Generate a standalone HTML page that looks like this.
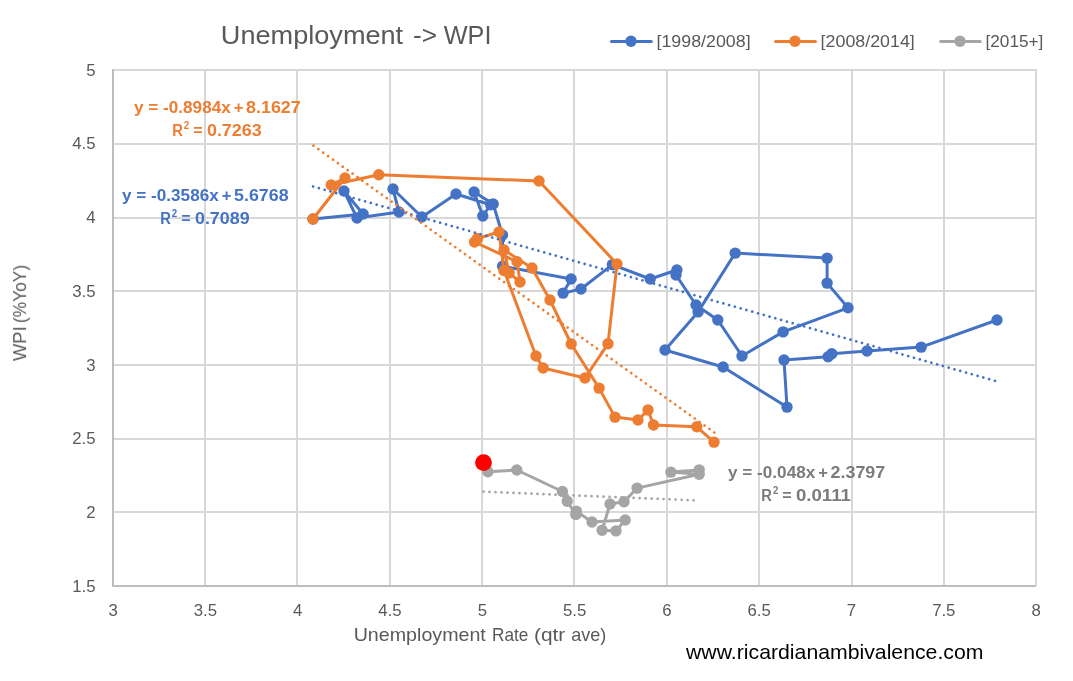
<!DOCTYPE html>
<html><head><meta charset="utf-8"><title>Unemployment -&gt; WPI</title>
<style>html,body{margin:0;padding:0;background:#fff;}svg{display:block;}text{font-family:"Liberation Sans",sans-serif;}</style>
</head><body>
<svg width="1073" height="681" viewBox="0 0 1073 681">
<rect x="0" y="0" width="1073" height="681" fill="#ffffff"/>
<g stroke="#d8d8d8" stroke-width="2" fill="none">
<line x1="205" y1="69.0" x2="205" y2="586.0"/>
<line x1="297" y1="69.0" x2="297" y2="586.0"/>
<line x1="390" y1="69.0" x2="390" y2="586.0"/>
<line x1="482" y1="69.0" x2="482" y2="586.0"/>
<line x1="574" y1="69.0" x2="574" y2="586.0"/>
<line x1="667" y1="69.0" x2="667" y2="586.0"/>
<line x1="759" y1="69.0" x2="759" y2="586.0"/>
<line x1="852" y1="69.0" x2="852" y2="586.0"/>
<line x1="944" y1="69.0" x2="944" y2="586.0"/>
<line x1="1036" y1="69.0" x2="1036" y2="586.0"/>
<line x1="113.0" y1="70" x2="1037.0" y2="70"/>
<line x1="113.0" y1="144" x2="1037.0" y2="144"/>
<line x1="113.0" y1="218" x2="1037.0" y2="218"/>
<line x1="113.0" y1="291" x2="1037.0" y2="291"/>
<line x1="113.0" y1="365" x2="1037.0" y2="365"/>
<line x1="113.0" y1="439" x2="1037.0" y2="439"/>
<line x1="113.0" y1="512" x2="1037.0" y2="512"/>
</g>
<g stroke="#bdbdbd" stroke-width="2" fill="none"><line x1="113.0" y1="69.0" x2="113.0" y2="587.0"/><line x1="112.0" y1="586.0" x2="1036.0" y2="586.0"/></g>
<polyline points="997.0,320.0 921.2,347.1 867.0,351.0 831.8,353.7 828.1,356.8 784.0,360.0 787.0,407.1 723.1,367.0 665.0,350.0 698.1,311.9 735.2,253.1 827.1,258.1 827.1,283.1 848.0,307.8 783.1,331.9 742.0,356.0 717.8,320.0 696.0,305.0 676.0,275.0 676.9,270.0 650.2,279.0 612.4,264.6 581.0,289.0 563.1,293.1 571.1,279.0 502.6,266.3 502.5,235.0 493.2,204.0 474.1,192.0 482.8,216.0 490.7,204.7 456.0,194.0 421.9,217.0 393.0,189.0 399.0,212.0 357.0,218.0 344.0,191.0 363.1,214.0 313.0,219.0" fill="none" stroke="#4472c4" stroke-width="3.0" stroke-linejoin="round" stroke-linecap="round"/>
<g fill="#4472c4">
<circle cx="997.0" cy="320.0" r="5.7"/>
<circle cx="921.2" cy="347.1" r="5.7"/>
<circle cx="867.0" cy="351.0" r="5.7"/>
<circle cx="831.8" cy="353.7" r="5.7"/>
<circle cx="828.1" cy="356.8" r="5.7"/>
<circle cx="784.0" cy="360.0" r="5.7"/>
<circle cx="787.0" cy="407.1" r="5.7"/>
<circle cx="723.1" cy="367.0" r="5.7"/>
<circle cx="665.0" cy="350.0" r="5.7"/>
<circle cx="698.1" cy="311.9" r="5.7"/>
<circle cx="735.2" cy="253.1" r="5.7"/>
<circle cx="827.1" cy="258.1" r="5.7"/>
<circle cx="827.1" cy="283.1" r="5.7"/>
<circle cx="848.0" cy="307.8" r="5.7"/>
<circle cx="783.1" cy="331.9" r="5.7"/>
<circle cx="742.0" cy="356.0" r="5.7"/>
<circle cx="717.8" cy="320.0" r="5.7"/>
<circle cx="696.0" cy="305.0" r="5.7"/>
<circle cx="676.0" cy="275.0" r="5.7"/>
<circle cx="676.9" cy="270.0" r="5.7"/>
<circle cx="650.2" cy="279.0" r="5.7"/>
<circle cx="612.4" cy="264.6" r="5.7"/>
<circle cx="581.0" cy="289.0" r="5.7"/>
<circle cx="563.1" cy="293.1" r="5.7"/>
<circle cx="571.1" cy="279.0" r="5.7"/>
<circle cx="502.6" cy="266.3" r="5.7"/>
<circle cx="502.5" cy="235.0" r="5.7"/>
<circle cx="493.2" cy="204.0" r="5.7"/>
<circle cx="474.1" cy="192.0" r="5.7"/>
<circle cx="482.8" cy="216.0" r="5.7"/>
<circle cx="490.7" cy="204.7" r="5.7"/>
<circle cx="456.0" cy="194.0" r="5.7"/>
<circle cx="421.9" cy="217.0" r="5.7"/>
<circle cx="393.0" cy="189.0" r="5.7"/>
<circle cx="399.0" cy="212.0" r="5.7"/>
<circle cx="357.0" cy="218.0" r="5.7"/>
<circle cx="344.0" cy="191.0" r="5.7"/>
<circle cx="363.1" cy="214.0" r="5.7"/>
<circle cx="313.0" cy="219.0" r="5.7"/>
</g>
<polyline points="313.0,219.0 345.0,178.0 331.2,185.0 378.8,174.8 539.0,181.0 617.0,264.0 608.0,343.8 585.0,378.0 543.1,368.0 536.0,356.0 504.0,270.5 499.0,232.0 477.5,238.5 474.5,242.0 517.1,261.8 520.0,282.0 509.2,273.0 504.0,250.0 532.0,268.0 550.0,300.0 571.2,344.0 599.1,388.1 615.0,417.1 638.0,420.0 648.0,410.0 653.5,425.0 696.8,426.8 714.0,442.1" fill="none" stroke="#ed7d31" stroke-width="3.0" stroke-linejoin="round" stroke-linecap="round"/>
<g fill="#ed7d31">
<circle cx="313.0" cy="219.0" r="5.7"/>
<circle cx="345.0" cy="178.0" r="5.7"/>
<circle cx="331.2" cy="185.0" r="5.7"/>
<circle cx="378.8" cy="174.8" r="5.7"/>
<circle cx="539.0" cy="181.0" r="5.7"/>
<circle cx="617.0" cy="264.0" r="5.7"/>
<circle cx="608.0" cy="343.8" r="5.7"/>
<circle cx="585.0" cy="378.0" r="5.7"/>
<circle cx="543.1" cy="368.0" r="5.7"/>
<circle cx="536.0" cy="356.0" r="5.7"/>
<circle cx="504.0" cy="270.5" r="5.7"/>
<circle cx="499.0" cy="232.0" r="5.7"/>
<circle cx="477.5" cy="238.5" r="5.7"/>
<circle cx="474.5" cy="242.0" r="5.7"/>
<circle cx="517.1" cy="261.8" r="5.7"/>
<circle cx="520.0" cy="282.0" r="5.7"/>
<circle cx="509.2" cy="273.0" r="5.7"/>
<circle cx="504.0" cy="250.0" r="5.7"/>
<circle cx="532.0" cy="268.0" r="5.7"/>
<circle cx="550.0" cy="300.0" r="5.7"/>
<circle cx="571.2" cy="344.0" r="5.7"/>
<circle cx="599.1" cy="388.1" r="5.7"/>
<circle cx="615.0" cy="417.1" r="5.7"/>
<circle cx="638.0" cy="420.0" r="5.7"/>
<circle cx="648.0" cy="410.0" r="5.7"/>
<circle cx="653.5" cy="425.0" r="5.7"/>
<circle cx="696.8" cy="426.8" r="5.7"/>
<circle cx="714.0" cy="442.1" r="5.7"/>
</g>
<polyline points="699.2,469.9 670.9,472.1 699.2,474.3 637.1,488.1 624.0,501.8 610.0,504.0 602.1,530.3 616.0,530.9 625.2,520.0 592.0,522.0 576.4,511.2 575.8,514.5 567.2,501.2 562.4,491.5 516.8,470.0 487.9,471.8" fill="none" stroke="#a5a5a5" stroke-width="3.0" stroke-linejoin="round" stroke-linecap="round"/>
<g fill="#a5a5a5">
<circle cx="699.2" cy="469.9" r="5.7"/>
<circle cx="670.9" cy="472.1" r="5.7"/>
<circle cx="699.2" cy="474.3" r="5.7"/>
<circle cx="637.1" cy="488.1" r="5.7"/>
<circle cx="624.0" cy="501.8" r="5.7"/>
<circle cx="610.0" cy="504.0" r="5.7"/>
<circle cx="602.1" cy="530.3" r="5.7"/>
<circle cx="616.0" cy="530.9" r="5.7"/>
<circle cx="625.2" cy="520.0" r="5.7"/>
<circle cx="592.0" cy="522.0" r="5.7"/>
<circle cx="576.4" cy="511.2" r="5.7"/>
<circle cx="575.8" cy="514.5" r="5.7"/>
<circle cx="567.2" cy="501.2" r="5.7"/>
<circle cx="562.4" cy="491.5" r="5.7"/>
<circle cx="516.8" cy="470.0" r="5.7"/>
<circle cx="487.9" cy="471.8" r="5.7"/>
</g>
<circle cx="483.5" cy="462.6" r="8.4" fill="#ff0000"/>
<line x1="313.1" y1="186.5" x2="994.95" y2="380.81" stroke="#4472c4" stroke-width="2.7" stroke-linecap="round" stroke-dasharray="0.01 5.9980"/>
<line x1="313.45" y1="145.6" x2="714.34" y2="432.53" stroke="#ed7d31" stroke-width="2.7" stroke-linecap="round" stroke-dasharray="0.01 6.0015"/>
<line x1="483.5" y1="491.7" x2="693.65" y2="500.30" stroke="#a5a5a5" stroke-width="2.7" stroke-linecap="round" stroke-dasharray="0.01 5.9979"/>
<g opacity="0.999">
<text x="113.1" y="616.1" font-size="16.8" fill="#595959" text-anchor="middle">3</text>
<text x="205.4" y="616.1" font-size="16.8" fill="#595959" text-anchor="middle">3.5</text>
<text x="297.7" y="616.1" font-size="16.8" fill="#595959" text-anchor="middle">4</text>
<text x="390.0" y="616.1" font-size="16.8" fill="#595959" text-anchor="middle">4.5</text>
<text x="482.3" y="616.1" font-size="16.8" fill="#595959" text-anchor="middle">5</text>
<text x="574.6" y="616.1" font-size="16.8" fill="#595959" text-anchor="middle">5.5</text>
<text x="666.9" y="616.1" font-size="16.8" fill="#595959" text-anchor="middle">6</text>
<text x="759.2" y="616.1" font-size="16.8" fill="#595959" text-anchor="middle">6.5</text>
<text x="851.5" y="616.1" font-size="16.8" fill="#595959" text-anchor="middle">7</text>
<text x="943.8" y="616.1" font-size="16.8" fill="#595959" text-anchor="middle">7.5</text>
<text x="1036.1" y="616.1" font-size="16.8" fill="#595959" text-anchor="middle">8</text>
<text x="95.6" y="75.7" font-size="16.8" fill="#595959" text-anchor="end">5</text>
<text x="95.6" y="149.4" font-size="16.8" fill="#595959" text-anchor="end">4.5</text>
<text x="95.6" y="223.1" font-size="16.8" fill="#595959" text-anchor="end">4</text>
<text x="95.6" y="296.8" font-size="16.8" fill="#595959" text-anchor="end">3.5</text>
<text x="95.6" y="370.6" font-size="16.8" fill="#595959" text-anchor="end">3</text>
<text x="95.6" y="444.3" font-size="16.8" fill="#595959" text-anchor="end">2.5</text>
<text x="95.6" y="518.0" font-size="16.8" fill="#595959" text-anchor="end">2</text>
<text x="95.6" y="591.7" font-size="16.8" fill="#595959" text-anchor="end">1.5</text>
<text x="220.87" y="43.7" font-size="25.2" fill="#595959" textLength="182.28" lengthAdjust="spacingAndGlyphs">Unemployment</text>
<text x="412.96" y="43.7" font-size="25.2" fill="#595959" textLength="24.02" lengthAdjust="spacingAndGlyphs">-&gt;</text>
<text x="443.74" y="43.7" font-size="25.2" fill="#595959" textLength="47.74" lengthAdjust="spacingAndGlyphs">WPI</text>
<text x="353.68" y="640.8" font-size="18.4" fill="#595959" textLength="132.17" lengthAdjust="spacingAndGlyphs">Unemployment</text>
<text x="491.97" y="640.8" font-size="18.4" fill="#595959" textLength="36.41" lengthAdjust="spacingAndGlyphs">Rate</text>
<text x="533.99" y="640.8" font-size="18.4" fill="#595959" textLength="31.28" lengthAdjust="spacingAndGlyphs">(qtr</text>
<text x="571.21" y="640.8" font-size="18.4" fill="#595959" textLength="35.05" lengthAdjust="spacingAndGlyphs">ave)</text>
<g transform="translate(26.1,460.8) rotate(-90)">
<text x="99.75" y="0" font-size="18.4" fill="#595959" textLength="34.74" lengthAdjust="spacingAndGlyphs">WPI</text>
<text x="137.66" y="0" font-size="18.4" fill="#595959" textLength="58.28" lengthAdjust="spacingAndGlyphs">(%YoY)</text>
</g>
<line x1="611.5" y1="41.4" x2="651.3" y2="41.4" stroke="#4472c4" stroke-width="3.0" stroke-linecap="round"/>
<circle cx="631.0" cy="41.3" r="5.7" fill="#4472c4"/>
<text x="656.52" y="47.0" font-size="16.6" fill="#595959" textLength="94.07" lengthAdjust="spacingAndGlyphs">[1998/2008]</text>
<line x1="775.6" y1="41.4" x2="815.45" y2="41.4" stroke="#ed7d31" stroke-width="3.0" stroke-linecap="round"/>
<circle cx="795.0" cy="41.3" r="5.7" fill="#ed7d31"/>
<text x="820.62" y="47.0" font-size="16.6" fill="#595959" textLength="94.17" lengthAdjust="spacingAndGlyphs">[2008/2014]</text>
<line x1="940.7" y1="41.4" x2="980.2" y2="41.4" stroke="#a5a5a5" stroke-width="3.0" stroke-linecap="round"/>
<circle cx="960.0" cy="41.3" r="5.7" fill="#a5a5a5"/>
<text x="985.49" y="47.0" font-size="16.6" fill="#595959" textLength="57.91" lengthAdjust="spacingAndGlyphs">[2015+]</text>
<text x="134.05" y="113.0" font-size="16.8" font-weight="bold" fill="#ed7d31" textLength="96.7" lengthAdjust="spacingAndGlyphs">y = -0.8984x</text>
<text x="233.7" y="113.0" font-size="16.8" font-weight="bold" fill="#ed7d31" textLength="9.68" lengthAdjust="spacingAndGlyphs">+</text>
<text x="246.09" y="113.0" font-size="16.8" font-weight="bold" fill="#ed7d31" textLength="54.68" lengthAdjust="spacingAndGlyphs">8.1627</text>
<text x="172.23" y="135.7" font-size="16.8" font-weight="bold" fill="#ed7d31" textLength="10.67" lengthAdjust="spacingAndGlyphs">R</text>
<text x="183.79" y="128.9" font-size="10.4" font-weight="bold" fill="#ed7d31" textLength="5.39" lengthAdjust="spacingAndGlyphs">2</text>
<text x="193.23" y="135.7" font-size="16.8" font-weight="bold" fill="#ed7d31" textLength="9.33" lengthAdjust="spacingAndGlyphs">=</text>
<text x="206.94" y="135.7" font-size="16.8" font-weight="bold" fill="#ed7d31" textLength="54.78" lengthAdjust="spacingAndGlyphs">0.7263</text>
<text x="122.05" y="200.8" font-size="16.8" font-weight="bold" fill="#4472c4" textLength="96.7" lengthAdjust="spacingAndGlyphs">y = -0.3586x</text>
<text x="221.7" y="200.8" font-size="16.8" font-weight="bold" fill="#4472c4" textLength="9.68" lengthAdjust="spacingAndGlyphs">+</text>
<text x="234.09" y="200.8" font-size="16.8" font-weight="bold" fill="#4472c4" textLength="54.53" lengthAdjust="spacingAndGlyphs">5.6768</text>
<text x="160.23" y="223.6" font-size="16.8" font-weight="bold" fill="#4472c4" textLength="10.67" lengthAdjust="spacingAndGlyphs">R</text>
<text x="171.79" y="216.8" font-size="10.4" font-weight="bold" fill="#4472c4" textLength="5.39" lengthAdjust="spacingAndGlyphs">2</text>
<text x="181.23" y="223.6" font-size="16.8" font-weight="bold" fill="#4472c4" textLength="9.33" lengthAdjust="spacingAndGlyphs">=</text>
<text x="194.94" y="223.6" font-size="16.8" font-weight="bold" fill="#4472c4" textLength="54.78" lengthAdjust="spacingAndGlyphs">0.7089</text>
<text x="728.05" y="477.9" font-size="16.8" font-weight="bold" fill="#7b7b7b" textLength="87.2" lengthAdjust="spacingAndGlyphs">y = -0.048x</text>
<text x="818.2" y="477.9" font-size="16.8" font-weight="bold" fill="#7b7b7b" textLength="9.68" lengthAdjust="spacingAndGlyphs">+</text>
<text x="830.58" y="477.9" font-size="16.8" font-weight="bold" fill="#7b7b7b" textLength="54.58" lengthAdjust="spacingAndGlyphs">2.3797</text>
<text x="761.35" y="500.8" font-size="16.8" font-weight="bold" fill="#7b7b7b" textLength="10.63" lengthAdjust="spacingAndGlyphs">R</text>
<text x="772.91" y="494.0" font-size="10.4" font-weight="bold" fill="#7b7b7b" textLength="5.37" lengthAdjust="spacingAndGlyphs">2</text>
<text x="782.3" y="500.8" font-size="16.8" font-weight="bold" fill="#7b7b7b" textLength="9.39" lengthAdjust="spacingAndGlyphs">=</text>
<text x="796.03" y="500.8" font-size="16.8" font-weight="bold" fill="#7b7b7b" textLength="54.78" lengthAdjust="spacingAndGlyphs">0.0111</text>
<text x="686.0" y="658.9" font-size="20.6" fill="#000000" textLength="297.46" lengthAdjust="spacingAndGlyphs">www.ricardianambivalence.com</text>
</g>
</svg>
</body></html>
